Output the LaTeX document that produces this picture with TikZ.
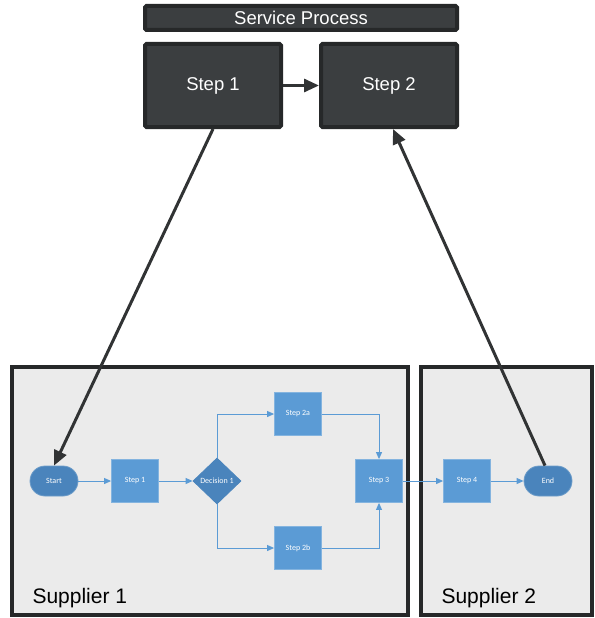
\documentclass[tikz,border=0pt]{standalone}
\usepackage{fontspec}
\setmainfont{Liberation Sans}
\newfontfamily\smallfont{Carlito}
\usetikzlibrary{arrows.meta,shapes.geometric}
\definecolor{darkbox}{HTML}{3B3E40}
\definecolor{darkline}{HTML}{262829}
\definecolor{lanefill}{HTML}{EBEBEB}
\definecolor{stepblue}{HTML}{5B9BD5}
\definecolor{termblue}{HTML}{4A84BC}

\tikzset{
	topbox/.style={draw=darkline,line width=4pt,fill=darkbox,rounded corners=1.5pt,text=white,font=\fontsize{18.5}{22}\selectfont},
	lanebox/.style={draw=darkline,line width=4pt,fill=lanefill},
	smallstep/.style={draw=stepblue!75!white,line width=.8pt,fill=stepblue,minimum width=47pt,minimum height=43pt,text=white,font=\smallfont\fontsize{8}{9}\selectfont},
	term/.style={smallstep,rounded corners=15pt,fill=termblue,draw=termblue!80!white,minimum width=48pt,minimum height=30pt},
	decision/.style={smallstep,diamond,fill=termblue,draw=termblue,inner sep=0pt,minimum width=48pt,minimum height=46pt},
	bigarrow/.style={draw=darkline!95!white,line width=3pt,-{Triangle[length=15pt,width=13pt]}},
	link/.style={draw=stepblue,line width=.9pt,-{Triangle[length=7pt,width=6pt]}}
}

\begin{document}
\begin{tikzpicture}[x=1pt,y=-1pt]
	\useasboundingbox (0,0) rectangle (594,618);
	% service process on top
	\node[topbox,minimum width=312pt,minimum height=24pt] (title) at (301,18) {Service Process};
	\node[topbox,minimum width=136pt,minimum height=83pt] (top1) at (213,85.5) {Step 1};
	\node[topbox,minimum width=136pt,minimum height=83pt] (top2) at (389,85.5) {Step 2};
	\draw[bigarrow] (top1) -- (top2);
	% suppliers
	\draw[lanebox] (12,367) rectangle (408,615);
	\draw[lanebox] (421,367) rectangle (592,615);
	\node[anchor=base west,font=\fontsize{21}{25}\selectfont] (sup1) at (29,603) {Supplier 1};
	\node[anchor=base west,font=\fontsize{21}{25}\selectfont] (sup2) at (438,603) {Supplier 2};
	\node[term] (start) at (54,481) {Start};
	\node[smallstep] (s1) at (135,481) {Step 1};
	\node[decision] (dec) at (217,481) {Decision 1};
	\node[smallstep] (s2a) at (298,414) {Step 2a};
	\node[smallstep] (s2b) at (298,548) {Step 2b};
	\node[smallstep] (s3) at (379,481) {Step 3};
	\node[smallstep] (s4) at (467,481) {Step 4};
	\node[term] (end) at (548,481) {End};
	\foreach \a/\b in {start/s1,s1/dec,s3/s4,s4/end} \draw[link] (\a) -- (\b);
	\draw[link] (dec.north) |- (s2a);
	\draw[link] (dec.south) |- (s2b);
	\draw[link] (s2a) -| (s3.north);
	\draw[link] (s2b) -| (s3.south);
	% links between the two levels
	\draw[bigarrow] (top1.south) -- (start.north);
	\draw[bigarrow] ([xshift=-3pt]end.north) -- ([xshift=4pt]top2.south);
\end{tikzpicture}
\end{document}
